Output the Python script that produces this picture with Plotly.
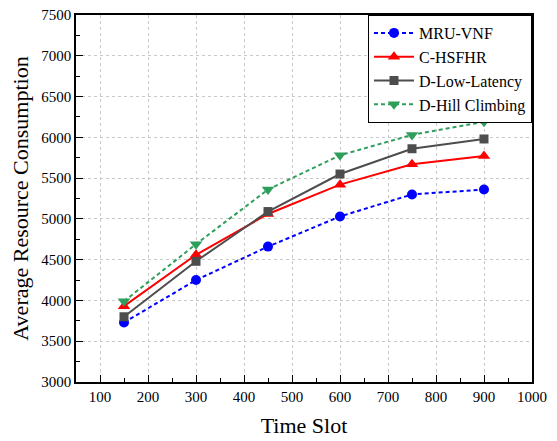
import plotly.graph_objects as go

time_slots = [150, 300, 450, 600, 750, 900]
mru_vnf = [3730, 4250, 4660, 5030, 5300, 5360]
c_hsfhr = [3930, 4560, 5060, 5420, 5670, 5770]
d_low_latency = [3800, 4480, 5090, 5550, 5860, 5980]
d_hill = [3990, 4690, 5360, 5780, 6030, 6190]

x_ticks = [100, 200, 300, 400, 500, 600, 700, 800, 900, 1000]
y_ticks = [3000, 3500, 4000, 4500, 5000, 5500, 6000, 6500, 7000, 7500]

FONT = "Liberation Serif"

fig = go.Figure()
fig.add_trace(go.Scatter(x=time_slots, y=mru_vnf, name="MRU-VNF", mode="lines+markers",
                         line=dict(color="#0000FF", width=2, dash="4px,3px"),
                         marker=dict(symbol="circle", size=10, color="#0000FF")))
fig.add_trace(go.Scatter(x=time_slots, y=c_hsfhr, name="C-HSFHR", mode="lines+markers",
                         line=dict(color="#FF0000", width=2),
                         marker=dict(symbol="triangle-up", size=11, color="#FF0000")))
fig.add_trace(go.Scatter(x=time_slots, y=d_low_latency, name="D-Low-Latency", mode="lines+markers",
                         line=dict(color="#4D4D4D", width=2),
                         marker=dict(symbol="square", size=9, color="#4D4D4D")))
fig.add_trace(go.Scatter(x=time_slots, y=d_hill, name="D-Hill Climbing", mode="lines+markers",
                         line=dict(color="#2E9E5B", width=2, dash="4px,3px"),
                         marker=dict(symbol="triangle-down", size=11, color="#2E9E5B")))

axis_common = dict(showline=True, linecolor="black", linewidth=1.5, mirror=True,
                   ticks="inside", ticklen=7, tickwidth=1, tickcolor="black",
                   showgrid=True, gridcolor="#C8C8C8", griddash="dot", gridwidth=1,
                   zeroline=False, automargin=False, ticklabeloverflow="allow",
                   tickfont=dict(family=FONT, size=15, color="black"))

fig.update_xaxes(range=[50, 1000], tickvals=x_ticks,
                 minor=dict(ticks="inside", ticklen=4, tickcolor="black", dtick=50, tick0=50, showgrid=False),
                 title=dict(text="Time Slot", font=dict(family=FONT, size=22, color="black"), standoff=14),
                 **axis_common)
fig.update_yaxes(range=[3000, 7500], tickvals=y_ticks,
                 minor=dict(ticks="inside", ticklen=4, tickcolor="black", dtick=250, tick0=3000, showgrid=False),
                 title=dict(text="Average Resource Consumption", font=dict(family=FONT, size=22, color="black"), standoff=8),
                 **axis_common)

# page body has an 8px default margin, so the figure is offset by 8px
fig.update_layout(
    width=549, height=433,
    margin=dict(l=68, r=25, t=7, b=59, autoexpand=False),
    paper_bgcolor="white", plot_bgcolor="white",
    font=dict(family=FONT, color="black"),
    legend=dict(x=1, y=1, xanchor="right", yanchor="top",
                bordercolor="black", borderwidth=1, bgcolor="white",
                font=dict(family=FONT, size=16, color="black"),
                tracegroupgap=0, itemwidth=40),
    showlegend=True,
)

fig.write_html("out.html")
